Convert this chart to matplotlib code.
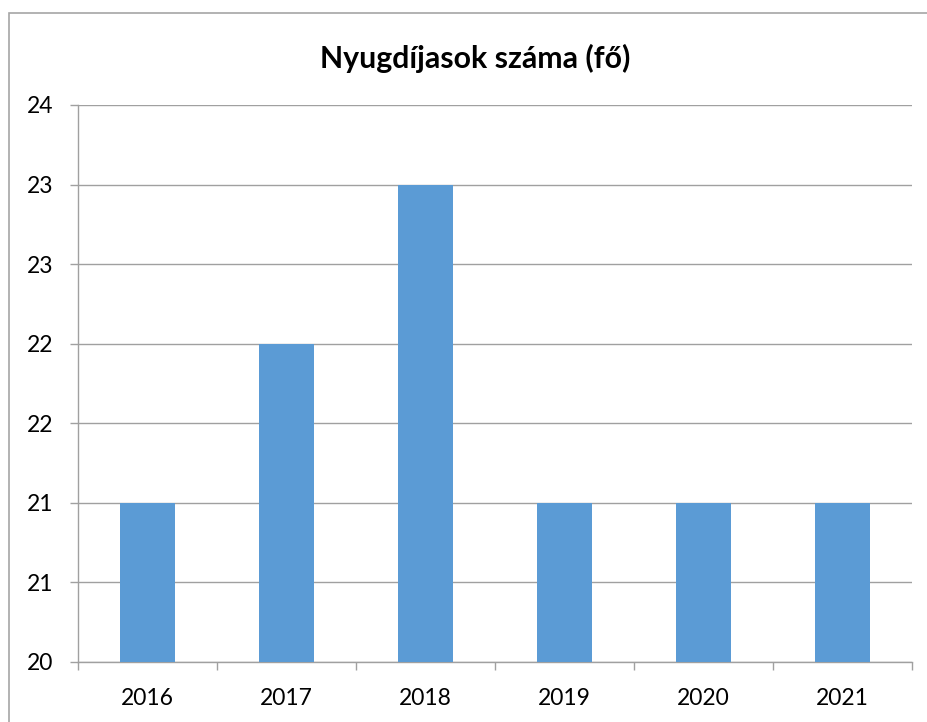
import math

import matplotlib
matplotlib.use("Agg")
import matplotlib.pyplot as plt
import numpy as np
from matplotlib.patches import Rectangle
from matplotlib.ticker import FuncFormatter, MultipleLocator

years = ["2016", "2017", "2018", "2019", "2020", "2021"]
counts = [21, 22, 23, 21, 21, 21]
title = "Nyugdíjasok száma (fő)"

plt.rcParams["font.family"] = ["Lato", "DejaVu Sans"]

fig = plt.figure(figsize=(9.28, 7.22), dpi=100)
ax = fig.add_axes([78 / 928, 60 / 722, 834 / 928, 557 / 722])

# chart frame (Excel-like border, cut off at right/bottom)
fig.patches.append(Rectangle((9 / 928, -0.1), 1.2, (722 - 13) / 722 + 0.1,
                             transform=fig.transFigure, fill=False,
                             ec="#a6a6a6", lw=1.2))

x = np.arange(len(years))
ax.bar(x, counts, width=0.4, color="#5b9bd5", zorder=3)

ax.set_xlim(-0.5, len(years) - 0.5)
ax.set_ylim(20, 23.5)
ax.yaxis.set_major_locator(MultipleLocator(0.5))
ax.yaxis.set_major_formatter(FuncFormatter(lambda v, p: f"{math.floor(v + 0.5):d}"))
ax.grid(axis="y", color="#a0a0a0", lw=1, zorder=0)

ax.set_xticks(x)
ax.set_xticklabels(years)
ax.set_xticks(np.arange(-0.5, len(years)), minor=True)
ax.tick_params(axis="x", which="major", length=0, pad=19, labelsize=16.5)
ax.tick_params(axis="x", which="minor", length=5.8, color="#a0a0a0", width=1)
ax.tick_params(axis="y", length=5.8, color="#a0a0a0", width=1, pad=12,
               labelsize=16.5)

for s in ("top", "right"):
    ax.spines[s].set_visible(False)
for s in ("left", "bottom"):
    ax.spines[s].set_color("#a0a0a0")
    ax.spines[s].set_linewidth(1)

fig.text(475 / 928, (722 - 58) / 722, title, ha="center", va="center",
         fontsize=21.8, fontweight="bold")

fig.savefig("out.png", dpi=100)
